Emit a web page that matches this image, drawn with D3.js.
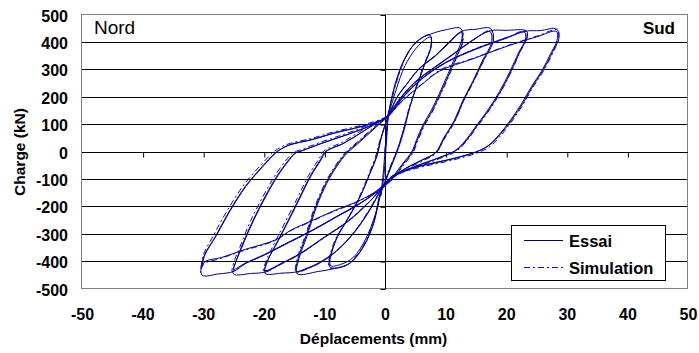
<!DOCTYPE html>
<html><head><meta charset="utf-8">
<script src="https://cdn.jsdelivr.net/npm/d3@7"></script>
<style>body{margin:0;background:#fff}svg{display:block}text{font-family:"Liberation Sans",Arial,sans-serif}</style>
</head><body>
<svg id="c" width="699" height="353"></svg>
<script>
// ---- data: [déplacement (mm), charge (kN)] ----
const xTicks = [-50,-40,-30,-20,-10,0,10,20,30,40,50];
const yTicks = [-500,-400,-300,-200,-100,0,100,200,300,400,500];
const seriesNames = ["Essai","Simulation"];

const essai0 = [[0,0],[0.3,80],[0.6,150],[0.3,90],[-0.3,-80],[-0.7,-160],[-0.2,-90],[0.5,130]];
const essai1 = [[0.5,130],[1.5,235],[3,330],[4.5,385],[6,415],[7.4,427],
 [7.7,395],[6.6,324],[5.2,238],[4.1,165],[3.3,92],[2.5,32],[1.9,-5],[1,-55],[0.2,-100],[-0.5,-135],
 [-1.9,-260],[-3.6,-346],[-5.8,-405],[-7.5,-422],[-9.1,-419],
 [-8.3,-330],[-6,-240],[-4.1,-163],[-2.5,-78],[-1.4,-17],[-0.8,40],[0,95],[0.5,130],
 [1.8,225],[3.3,315],[5,375],[6.5,408],[7.5,420],
 [7.6,385],[6.5,318],[5.1,232],[4,158],[3.1,86],[2.3,26],[1.7,-10],[0.8,-60],[0.1,-103],[-0.5,-135],
 [-1.6,-228],[-3.2,-318],[-5.2,-384],[-7.3,-410],[-9,-414],
 [-8.1,-322],[-5.9,-234],[-4,-158],[-2.4,-74],[-1.3,-14],[-0.7,44],[0,98],[0.5,130]];
const essai2 = [[0.5,130],[1.6,238],[3.1,332],[4.6,388],[6.1,417],[7.6,431],[10,446],[12.5,451],
 [12.7,415],[11.6,348],[10.2,275],[8.9,210],[7.6,150],[6.3,100],[5.2,44],[4.4,0],[3,-40],[1.3,-90],[-0.5,-135],
 [-1.9,-262],[-3.6,-348],[-5.8,-406],[-8.5,-426],[-11,-436],[-14.5,-444],
 [-14.2,-390],[-12.9,-309],[-11.3,-200],[-9.6,-114],[-8,-54],[-6.3,-5],[-4.5,30],[-2.5,70],[-0.5,110],[0.5,130],
 [2,200],[3.4,242],[5.5,300],[8.3,350],[10.5,396],[12.6,436],
 [12.8,405],[11.7,342],[10.3,270],[9,206],[7.7,146],[6.4,97],[5.3,42],[4.5,-2],[3.1,-42],[1.4,-92],[-0.5,-135],
 [-2.5,-210],[-5,-290],[-8,-360],[-11,-405],[-13,-425],[-14.6,-436],
 [-14.3,-385],[-13,-305],[-11.4,-197],[-9.7,-112],[-8.1,-52],[-6.4,-3],[-4.6,32],[-2.6,72],[-0.6,111],[0.5,130]];
const essai3 = [[0.5,130],[2,200],[3.5,245],[5.5,302],[8.3,352],[10.5,400],[12.6,440],[15,448],[17.4,451],
 [17.9,409],[16.3,336],[14.7,263],[13,190],[11.6,117],[9.9,56],[8.5,0],[6,-30],[3,-65],[1,-100],[-0.5,-135],
 [-2.5,-212],[-5,-292],[-8,-362],[-11,-408],[-14.5,-437],[-17,-442],[-19.8,-443],
 [-19.4,-400],[-18.2,-345],[-16.5,-273],[-14.3,-175],[-12.4,-90],[-10.7,-29],[-9.9,0],[-7,30],[-4,70],[-1.5,105],[0.5,130],
 [2.5,195],[5,255],[8,305],[11,352],[14,400],[17.3,440],
 [17.6,402],[16,330],[14.5,258],[12.8,186],[11.4,113],[9.7,52],[8.3,-3],[5.8,-33],[2.8,-68],[0.9,-102],[-0.5,-135],
 [-3,-190],[-6,-250],[-10,-310],[-14,-370],[-17,-405],[-19.8,-432],
 [-19.3,-392],[-18,-340],[-16.3,-268],[-14.1,-171],[-12.2,-87],[-10.5,-27],[-9.7,2],[-6.8,32],[-3.8,72],[-1.4,106],[0.5,130]];
const essai4 = [[0.5,130],[2.5,197],[5,257],[8,307],[11,354],[14,402],[17.3,442],[20,444],[23.3,442],
 [23.5,421],[22.4,372],[20.9,299],[19.2,226],[17.3,159],[15.1,92],[13.5,44],[11.8,7],[9,-20],[5,-52],[1.5,-88],[-0.5,-130],
 [-3,-192],[-6,-252],[-10,-312],[-14,-372],[-17,-407],[-19.8,-438],[-22,-443],[-25,-445],
 [-24.6,-400],[-23.9,-358],[-22,-260],[-19.8,-163],[-17.9,-90],[-15.9,-29],[-14.9,-5],[-14,2],[-10,35],[-6,65],[-2,100],[0.5,130],
 [3,200],[6,265],[10,325],[15,375],[20,415],[23,438],
 [23.2,412],[22.1,365],[20.6,293],[18.9,221],[17,154],[14.8,88],[13.2,40],[11.5,4],[8.7,-23],[4.8,-55],[1.4,-90],[-0.5,-132],
 [-4,-185],[-8,-235],[-12,-285],[-16,-330],[-20,-375],[-23,-405],[-25,-428],
 [-24.5,-395],[-23.7,-352],[-21.8,-255],[-19.6,-160],[-17.7,-87],[-15.7,-27],[-14.7,-3],[-13.8,4],[-9.8,37],[-5.8,67],[-1.9,101],[0.5,130]];
const essai5 = [[0.5,130],[3,202],[6,267],[10,327],[15,377],[20,417],[23.3,441],[25.6,443],[28.3,449],
 [28.7,415],[27.8,372],[26.1,299],[24.5,245],[22.8,179],[20.9,117],[19.2,69],[17.3,26],[15.1,1],[12.4,-17],[10.2,-29],[5.2,-54],[1.4,-84],[-0.5,-125],
 [-4,-187],[-8,-237],[-12,-287],[-16,-332],[-20,-377],[-23,-407],[-25,-436],[-27.5,-445],[-30.2,-449],
 [-29.9,-382],[-28,-309],[-25.9,-224],[-23.1,-127],[-20.3,-54],[-18.2,-5],[-17,13],[-15.7,26],[-12,45],[-8.5,68],[-4,92],[-0.3,117],[0.5,130],
 [3,190],[6,245],[9,295],[14.5,340],[20,385],[25,420],[28.3,440],
 [28.4,408],[27.5,366],[25.8,294],[24.2,240],[22.5,175],[20.6,113],[18.9,65],[17,23],[14.8,-2],[12.1,-20],[9.9,-32],[5,-57],[1.3,-87],[-0.5,-128],
 [-4,-175],[-8.5,-215],[-12,-250],[-15.5,-285],[-18,-320],[-23,-355],[-27,-385],[-29.7,-400],[-30.2,-420],
 [-29.7,-375],[-27.8,-304],[-25.7,-220],[-22.9,-124],[-20.1,-52],[-18,-3],[-16.8,15],[-15.5,28],[-11.8,47],[-8.3,70],[-3.8,94],[-0.2,118],[0.5,130]];

const simul1 = [[0,0],[0.4,110],[0.6,140],[1.7,240],[3.2,335],[4.7,390],[6.2,418],[7.4,428],[7.6,390],[6.4,318],[5,230],[3.9,155],[3.1,85],[2.3,25],[1.6,-15],[0.7,-62],[0,-105],[-0.6,-138],[-2,-262],[-3.8,-350],[-6,-408],[-7.7,-423],[-9.2,-421],[-8.5,-335],[-6.2,-244],[-4.3,-166],[-2.7,-82],[-1.6,-20],[-0.9,38],[-0.1,92],[0.6,132]];
const simul2 = [[0.6,132],[2.1,205],[3.6,248],[5.7,305],[8.5,356],[10.7,402],[12.7,440],[12.9,408],[11.8,344],[10.4,270],[9.1,206],[7.8,146],[6.5,96],[5.4,40],[4.6,-4],[3.2,-44],[1.5,-94],[-0.6,-138],[-2.7,-214],[-5.2,-295],[-8.2,-365],[-11.2,-410],[-13.2,-430],[-14.7,-440],[-14.4,-382],[-13.1,-302],[-11.5,-195],[-9.8,-110],[-8.2,-50],[-6.5,0],[-4.7,34],[-2.7,74],[-0.7,112],[0.6,132]];
const simul3 = [[0.6,132],[2.7,198],[5.2,258],[8.2,309],[11.2,356],[14.2,404],[17.5,444],[17.8,404],[16.2,330],[14.6,256],[12.9,183],[11.5,110],[9.8,48],[8.4,-5],[5.9,-36],[2.9,-70],[0.8,-104],[-0.6,-138],[-3.2,-194],[-6.2,-254],[-10.2,-315],[-14.2,-375],[-17.2,-410],[-20,-438],[-19.6,-396],[-18.4,-340],[-16.7,-266],[-14.5,-170],[-12.6,-85],[-10.9,-25],[-10.1,4],[-7.2,34],[-4.2,74],[-1.6,108],[0.6,132]];
const simul4 = [[0.6,132],[3.2,204],[6.2,269],[10.2,329],[15.2,379],[20.2,419],[23.2,442],[23.4,414],[22.3,366],[20.8,292],[19.1,219],[17.2,152],[15,86],[13.4,38],[11.7,2],[8.9,-25],[4.9,-57],[1.3,-92],[-0.6,-134],[-4.2,-189],[-8.2,-239],[-12.2,-289],[-16.2,-334],[-20.2,-379],[-23.2,-409],[-25.2,-436],[-24.8,-393],[-24,-350],[-22.2,-252],[-20,-157],[-18.1,-84],[-16.1,-24],[-15.1,-1],[-14.2,6],[-10.2,39],[-6.2,69],[-2.2,103],[0.6,132]];
const simul5 = [[0.6,132],[3.2,194],[6.2,250],[9.3,302],[14.7,343],[20.2,388],[25.2,424],[28.5,446],[28.6,410],[27.7,362],[26,290],[24.4,236],[22.7,170],[20.8,108],[19.1,60],[17.2,18],[15,-5],[12.3,-23],[10.1,-35],[5.1,-60],[1.2,-90],[-0.6,-132],[-4.2,-179],[-8.7,-219],[-12.2,-254],[-15.7,-289],[-18.2,-324],[-23.2,-359],[-27.2,-389],[-30,-410],[-30.4,-440],[-30,-378],[-28.2,-300],[-26.1,-216],[-23.3,-120],[-20.5,-48],[-18.4,0],[-17.2,17],[-15.9,30],[-12.2,49],[-8.7,72],[-4.2,96],[-0.5,120],[0.6,132]];

const essaiLoops = [essai0, essai1, essai2, essai3, essai4, essai5];
const simulLoops = [simul1, simul2, simul3, simul4, simul5];

// ---- drawing ----
const svg = d3.select("#c");
const L = 82, R = 688, T = 15, B = 289;
const x = d3.scaleLinear().domain([-50, 50]).range([L, R]);
const y = d3.scaleLinear().domain([-500, 500]).range([B, T]);
const crisp = v => Math.floor(v) + 0.5;
const FONT = '"Liberation Sans",Arial,sans-serif';
const fmt = d => String(d);

svg.append("rect").attr("x", L - 0.5).attr("y", T - 0.5).attr("width", R - L).attr("height", B - T)
  .attr("fill", "#fff").attr("stroke", "#808080").attr("stroke-width", 1);

// horizontal gridlines
svg.append("g").selectAll("line").data(yTicks.filter(v => v !== 500 && v !== -500 && v !== 0)).join("line")
  .attr("x1", L).attr("x2", R - 1).attr("y1", d => crisp(y(d))).attr("y2", d => crisp(y(d)))
  .attr("stroke", "#000").attr("stroke-width", 1);

// x axis line through zero, ticks below
const xAxisZero = d3.axisBottom(x).tickValues(xTicks.filter(v => v !== -50 && v !== 50 && v !== 0)).tickSize(5).tickFormat("").tickSizeOuter(0);
const gx0 = svg.append("g").attr("transform", `translate(0.5,${crisp(y(0))})`).call(xAxisZero);
gx0.select(".domain").attr("d", `M${L - 0.5},0H${R - 0.5}`).attr("stroke", "#000");
gx0.selectAll(".tick line").attr("stroke", "#000");

// y axis line at x=0, ticks left
const yAxisZero = d3.axisLeft(y).tickValues(yTicks.filter(v => v !== 0)).tickSize(5).tickFormat("").tickSizeOuter(0);
const gy0 = svg.append("g").attr("transform", `translate(${crisp(x(0))},0.5)`).call(yAxisZero);
gy0.select(".domain").attr("d", `M0,${T - 0.5}V${B - 0.5}`).attr("stroke", "#000");
gy0.selectAll(".tick line").attr("stroke", "#000").attr("transform", "translate(0,-0.5)");

// tick labels
const xLab = d3.axisBottom(x).tickValues(xTicks).tickSize(0).tickPadding(20).tickFormat(fmt);
const gxl = svg.append("g").attr("transform", `translate(0,${B})`).call(xLab);
gxl.select(".domain").remove();
gxl.selectAll("text").attr("font-family", FONT).attr("font-size", 16).attr("font-weight", "bold").attr("fill", "#000");

const yLab = d3.axisLeft(y).tickValues(yTicks).tickSize(0).tickPadding(14).tickFormat(fmt);
const gyl = svg.append("g").attr("transform", `translate(${L},1)`).call(yLab);
gyl.select(".domain").remove();
gyl.selectAll("text").attr("font-family", FONT).attr("font-size", 16).attr("font-weight", "bold").attr("fill", "#000");

// curves
const line = d3.line().x(d => x(d[0])).y(d => y(d[1])).curve(d3.curveCatmullRom.alpha(0.5));
svg.append("g").selectAll("path").data(essaiLoops).join("path")
  .attr("d", line).attr("fill", "none").attr("stroke", "#000080").attr("stroke-width", 1);
svg.append("g").selectAll("path").data(simulLoops).join("path")
  .attr("d", line).attr("fill", "none").attr("stroke", "#0000ff").attr("stroke-width", 1)
  .attr("stroke-dasharray", "6,3,2,3");

// titles
svg.append("text").attr("x", 373.5).attr("y", 344).attr("text-anchor", "middle")
  .attr("font-family", FONT).attr("font-size", 15.5).attr("font-weight", "bold").text("Déplacements (mm)");
svg.append("text").attr("transform", "translate(25,152) rotate(-90)").attr("text-anchor", "middle")
  .attr("font-family", FONT).attr("font-size", 15.5).attr("font-weight", "bold").text("Charge (kN)");
svg.append("text").attr("x", 94).attr("y", 34).attr("font-family", FONT).attr("font-size", 19).text("Nord");
svg.append("text").attr("x", 675).attr("y", 33.5).attr("text-anchor", "end")
  .attr("font-family", FONT).attr("font-size", 17).attr("font-weight", "bold").text("Sud");

// legend
const lg = svg.append("g");
lg.append("rect").attr("x", 511.5).attr("y", 225.5).attr("width", 154).attr("height", 55)
  .attr("fill", "#fff").attr("stroke", "#000").attr("stroke-width", 1);
const legY = [240.5, 267.5];
lg.selectAll("line").data(seriesNames).join("line")
  .attr("x1", 524).attr("x2", 563).attr("y1", (d, i) => legY[i]).attr("y2", (d, i) => legY[i])
  .attr("stroke", (d, i) => i ? "#0000ff" : "#000080").attr("stroke-width", 1)
  .attr("stroke-dasharray", (d, i) => i ? "6,3,2,3" : null);
lg.selectAll("text").data(seriesNames).join("text")
  .attr("x", 569).attr("y", (d, i) => legY[i] + 6).attr("font-family", FONT).attr("font-size", 16.5)
  .attr("font-weight", "bold").text(d => d);
</script>
</body></html>
